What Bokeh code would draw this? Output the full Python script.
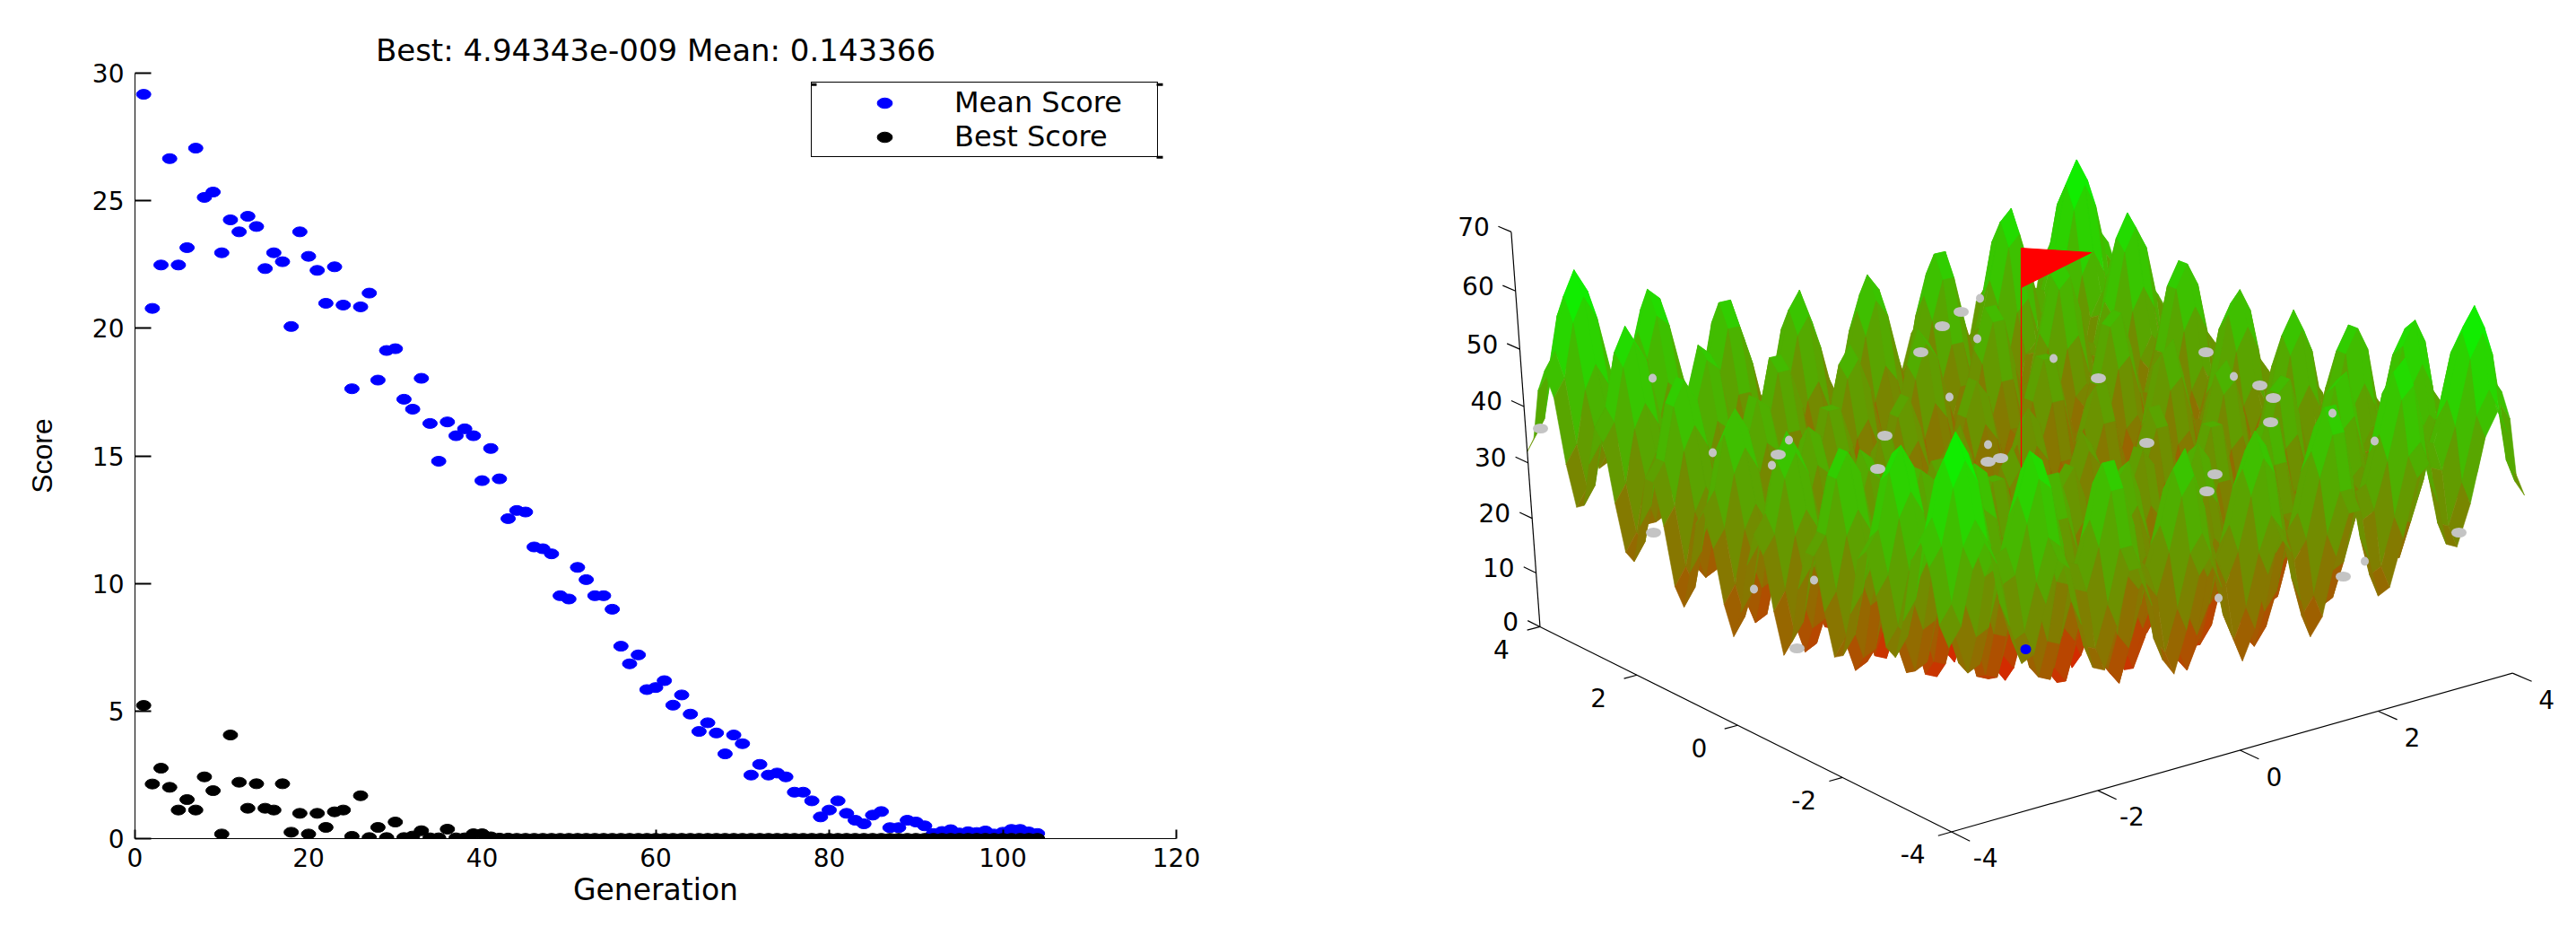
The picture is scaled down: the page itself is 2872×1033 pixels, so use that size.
import numpy as np
from bokeh.core.properties import value
from bokeh.embed import file_html
from bokeh.resources import INLINE
from bokeh.layouts import row
from bokeh.models import Range1d, Legend, LegendItem, ColumnDataSource, FixedTicker
from bokeh.plotting import figure

# ---------- left chart data ----------
generation = list(range(1, 105))
mean_score = [29.17,20.78,22.48,26.65,22.48,23.16,27.06,25.13,25.34,22.96,24.25,23.78,24.39,23.99,22.34,22.96,22.61,20.07,23.78,22.82,
              22.27,20.98,22.41,20.91,17.63,20.84,21.38,17.97,19.13,19.2,17.22,16.83,18.04,16.27,14.79,16.33,15.79,16.06,15.79,14.03,
              15.29,14.1,12.54,12.86,12.8,11.43,11.36,11.16,9.52,9.39,10.63,10.15,9.52,9.52,8.99,7.54,6.85,7.2,5.84,5.92,
              6.19,5.23,5.63,4.88,4.2,4.54,4.14,3.32,4.06,3.72,2.49,2.91,2.49,2.57,2.42,1.82,1.82,1.48,0.85,1.12,
              1.48,0.99,0.72,0.58,0.92,1.06,0.43,0.43,0.72,0.65,0.5,0.2,0.28,0.35,0.22,0.27,0.24,0.3,0.18,0.25,
              0.36,0.36,0.26,0.2]
best_score = [5.22,2.14,2.76,2.01,1.12,1.53,1.12,2.42,1.88,0.18,4.06,2.21,1.19,2.15,1.19,1.12,2.15,0.25,0.99,0.18,
              0.99,0.44,1.05,1.12,0.09,1.68,0.04,0.44,0.04,0.65,0.04,0.1,0.31,0.03,0.03,0.37,0.03,0.03,0.19,0.19,
              0.07,0.02,0.02,0.01,0.01,0.01,0.01,0.01,0.01,0.01,0.01,0.01,0.01,0.01,0.01,0.01,0.01,0.01,0.01,0.01,
              0.01,0.01,0.01,0.01,0.01,0.01,0.01,0.01,0.01,0.01,0.01,0.01,0.01,0.01,0.01,0.01,0.01,0.01,0.01,0.01,
              0.01,0.01,0.01,0.01,0.01,0.01,0.01,0.01,0.01,0.01,0.01,0.01,0.01,0.01,0.01,0.01,0.01,0.01,0.01,0.01,
              0.01,0.01,0.01,0.01]
x_ticks = [0, 20, 40, 60, 80, 100, 120]
y_ticks = [0, 5, 10, 15, 20, 25, 30]
title_text = "Best: 4.94343e-009 Mean: 0.143366"

# ---------- right chart data ----------
# one quadrant of the surface heights, x and y from 0 to 4 every 0.16; the picture is close to symmetric
surface_quadrant = [
 [0,5,14,20,17,8,1,4,14,21,21,12,5,6,14,24,26,19,11,10,17,28,32,28,19,16],
 [5,10,19,25,22,13,6,9,19,26,26,17,10,11,19,29,31,24,16,15,22,33,37,33,24,21],
 [14,19,28,34,31,22,15,18,28,35,35,26,19,20,28,38,40,33,25,24,31,42,46,42,33,30],
 [20,25,34,40,37,28,21,24,34,41,41,32,25,26,34,44,46,39,31,30,37,48,52,48,39,36],
 [17,22,31,37,34,25,18,21,31,38,38,29,22,23,31,41,43,36,28,27,34,45,49,45,36,33],
 [8,13,22,28,25,16,9,12,22,29,29,20,13,14,22,32,34,27,19,18,25,36,40,36,27,24],
 [1,6,15,21,18,9,2,5,15,22,22,13,6,7,15,25,27,20,12,11,18,29,33,29,20,17],
 [4,9,18,24,21,12,5,8,18,25,25,16,9,10,18,28,30,23,15,14,21,32,36,32,23,20],
 [14,19,28,34,31,22,15,18,28,35,35,26,19,20,28,38,40,33,25,24,31,42,46,42,33,30],
 [21,26,35,41,38,29,22,25,35,42,42,33,26,27,35,45,47,40,32,31,38,49,53,49,40,37],
 [21,26,35,41,38,29,22,25,35,42,42,33,26,27,35,45,47,40,32,31,38,49,53,49,40,37],
 [12,17,26,32,29,20,13,16,26,33,33,24,17,18,26,36,38,31,23,22,29,40,44,40,31,28],
 [5,10,19,25,22,13,6,9,19,26,26,17,10,11,19,29,31,24,16,15,22,33,37,33,24,21],
 [6,11,20,26,23,14,7,10,20,27,27,18,11,12,20,30,32,25,17,16,23,34,38,34,25,22],
 [14,19,28,34,31,22,15,18,28,35,35,26,19,20,28,38,40,33,25,24,31,42,46,42,33,30],
 [24,29,38,44,41,32,25,28,38,45,45,36,29,30,38,48,50,43,35,34,41,52,56,52,43,40],
 [26,31,40,46,43,34,27,30,40,47,47,38,31,32,40,50,52,45,37,36,43,54,58,54,45,42],
 [19,24,33,39,36,27,20,23,33,40,40,31,24,25,33,43,45,38,30,29,36,47,51,47,38,35],
 [11,16,25,31,28,19,12,15,25,32,32,23,16,17,25,35,37,30,22,21,28,39,43,39,30,27],
 [10,15,24,30,27,18,11,14,24,31,31,22,15,16,24,34,36,29,21,20,27,38,42,38,29,26],
 [17,22,31,37,34,25,18,21,31,38,38,29,22,23,31,41,43,36,28,27,34,45,49,45,36,33],
 [28,33,42,48,45,36,29,32,42,49,49,40,33,34,42,52,54,47,39,38,45,56,60,56,47,44],
 [32,37,46,52,49,40,33,36,46,53,53,44,37,38,46,56,58,51,43,42,49,60,64,60,51,48],
 [28,33,42,48,45,36,29,32,42,49,49,40,33,34,42,52,54,47,39,38,45,56,60,56,47,44],
 [19,24,33,39,36,27,20,23,33,40,40,31,24,25,33,43,45,38,30,29,36,47,51,47,38,35],
 [16,21,30,36,33,24,17,20,30,37,37,28,21,22,30,40,42,35,27,26,33,44,48,44,35,32],
]
grid_step = 0.16
xy_tick_values = [-4, -2, 0, 2, 4]
z_tick_values = [0, 10, 20, 30, 40, 50, 60, 70]
gray_x = [1717,2141,2165,2186,2101,1982,2093,2216,2230,2459,2339,2519,2534,2531,2393,2469,2460,1843,2741,2612,2003]
gray_y = [477,392,363,347,485,506,522,514,510,392,421,429,443,470,493,528,547,593,593,642,722]
gray_part_x = [2204,2207,1842,2173,1994,1975,1909,2216,2600,2289,2490,2647,2473,1955,2022,2636]
gray_part_y = [377,332,421,442,490,518,504,495,460,399,419,491,666,656,646,625]
best_point_x = [2258]
best_point_y = [723]
flag_x = [2253, 2331, 2253]
flag_y = [276, 281, 320]
pole_x = [2253, 2253]
pole_y = [276, 724]

# small tick stubs on the legend frame, in the left chart's data units
legend_stub_x0 = [117.73, 117.73, 77.93]
legend_stub_x1 = [118.45, 118.45, 78.55]
legend_stub_y = [29.55, 26.7, 29.55]

# camera calibration: 3-D positions and where they appear in the picture
cal_3d = [(-4,-4,0),(4,-4,0),(-4,4,0),(-4,4,70),(3.52,3.52,64),(3.52,-3.52,64),(-3.52,3.52,64),(-3.52,-3.52,64),
          (0,0,0),(-4,0,0),(0,-4,0),(4,-4,32),(-4,4,32)]
cal_2d = [(2173,927),(2803,748),(1718,697),(1684,257),(2314,177),(2758,341),(1755,300),(2182,480),
          (2253,724),(1937,808),(2496,835),(2813,553),(1701,505)]

rows_ = []; rhs = []
for (X, Y, Z), (u, v) in zip(cal_3d, cal_2d):
    u_, v_ = (u - 2250) / 500, (v - 600) / 500
    rows_.append([X, Y, Z, 1, 0, 0, 0, 0, -u_*X, -u_*Y, -u_*Z]); rhs.append(u_)
    rows_.append([0, 0, 0, 0, X, Y, Z, 1, -v_*X, -v_*Y, -v_*Z]); rhs.append(v_)
h = np.linalg.lstsq(np.array(rows_, float), np.array(rhs, float), rcond=None)[0]

def project(X, Y, Z):
    X, Y, Z = np.asarray(X, float), np.asarray(Y, float), np.asarray(Z, float)
    w = h[8]*X + h[9]*Y + h[10]*Z + 1
    return ((h[0]*X + h[1]*Y + h[2]*Z + h[3]) / w * 500 + 2250,
            (h[4]*X + h[5]*Y + h[6]*Z + h[7]) / w * 500 + 600)

# ---------- left figure ----------
TICK_FONT = "28px"
FONT = "DejaVu Sans"
p1 = figure(width=1428, height=1025, output_backend="svg", toolbar_location=None,
            x_range=Range1d(0, 120), y_range=Range1d(0, 30),
            min_border_left=150, min_border_right=117, min_border_top=81, min_border_bottom=91,
            title=title_text, x_axis_label="Generation", y_axis_label="Score")
p1.frame_align = False
p1.outline_line_color = None
p1.grid.visible = False
p1.title.align = "center"
p1.title.text_font = FONT
p1.title.text_font_size = "34px"
p1.title.text_font_style = "normal"
p1.title.text_color = "black"
p1.title.standoff = 12
p1.xaxis.ticker = FixedTicker(ticks=x_ticks)
p1.yaxis.ticker = FixedTicker(ticks=y_ticks)
for ax, tick_in, standoff in ((p1.xaxis[0], 10, 10), (p1.yaxis[0], 18, 12)):
    ax.major_tick_in = tick_in
    ax.major_tick_out = 0
    ax.minor_tick_line_color = None
    ax.major_tick_line_width = 2
    ax.major_tick_line_color = "black"
    ax.axis_line_color = "black"
    ax.axis_line_width = 1
    ax.major_label_text_font = FONT
    ax.major_label_text_font_size = TICK_FONT
    ax.major_label_text_color = "black"
    ax.major_label_standoff = standoff
    ax.axis_label_text_font = FONT
    ax.axis_label_text_font_style = "normal"
    ax.axis_label_text_color = "black"
p1.xaxis[0].axis_label_text_font_size = "33px"
p1.xaxis[0].axis_label_standoff = 3
p1.yaxis[0].major_label_orientation = "horizontal"
p1.yaxis[0].axis_label_text_font = "Liberation Sans"
p1.yaxis[0].axis_label_text_font_size = "32px"
p1.yaxis[0].axis_label_standoff = 35

r_mean = p1.ellipse(generation, mean_score, width=16, height=11, width_units="screen", height_units="screen",
                    fill_color="#0000ff", line_color="#0000ff")
r_best = p1.ellipse(generation, best_score, width=16, height=11, width_units="screen", height_units="screen",
                    fill_color="black", line_color="black")
legend = Legend(items=[LegendItem(label="Mean Score", renderers=[r_mean]),
                       LegendItem(label="Best Score", renderers=[r_best])],
                location=(754, 759), orientation="vertical", padding=3, spacing=0,
                glyph_width=156, glyph_height=21, label_standoff=0, label_width=223, label_height=21,
                margin=0, border_line_color="black", border_line_width=1.2, border_line_alpha=1,
                label_text_font=FONT, label_text_font_size="32px", label_text_color="black",
                background_fill_alpha=0)
p1.add_layout(legend)
p1.segment(legend_stub_x0, legend_stub_y, legend_stub_x1, legend_stub_y, line_color="black", line_width=3)

# ---------- right figure ----------
p2 = figure(width=1428, height=1025, output_backend="svg", toolbar_location=None,
            x_range=Range1d(1428, 2856), y_range=Range1d(1025, 0),
            min_border=0, x_axis_type=None, y_axis_type=None)
p2.frame_align = False
p2.outline_line_color = None
p2.grid.visible = False

q = np.array(surface_quadrant, float)
z_grid = np.vstack([np.hstack([q[::-1, ::-1], q[::-1, 1:]]), np.hstack([q[1:, ::-1], q[1:, 1:]])])
n = z_grid.shape[0]
axis_vals = np.arange(n) * grid_step - 4
back_src = {"xs": [], "ys": [], "c": []}
front_src = {"xs": [], "ys": [], "c": []}
order = sorted(((i, j) for i in range(n-1) for j in range(n-1)), key=lambda t: -(t[0] + t[1]))
for i, j in order:
    Xs = [axis_vals[j], axis_vals[j+1], axis_vals[j+1], axis_vals[j]]
    Ys = [axis_vals[i], axis_vals[i], axis_vals[i+1], axis_vals[i+1]]
    Zs = [z_grid[i, j], z_grid[i, j+1], z_grid[i+1, j+1], z_grid[i+1, j]]
    u, v = project(Xs, Ys, Zs)
    t = min(0.1 + 0.9 * sum(Zs) / 4 / 65.0, 1.0)
    color = "#%02x%02x00" % (int(255*(1-t)), int(255*t))
    dst = back_src if i + j >= n - 2 else front_src
    dst["xs"].append(list(u)); dst["ys"].append(list(v)); dst["c"].append(color)

p2.patches("xs", "ys", source=ColumnDataSource(back_src), fill_color="c", line_color="c", line_width=0.6)
p2.line(pole_x, pole_y, line_color="#ff0000", line_width=1.2)
p2.patch(flag_x, flag_y, fill_color="#ff0000", line_color="#ff0000")
p2.patches("xs", "ys", source=ColumnDataSource(front_src), fill_color="c", line_color="c", line_width=0.6)
p2.ellipse(gray_x, gray_y, width=17, height=11, width_units="screen", height_units="screen",
           fill_color="#c4c4c4", line_color=None)
p2.ellipse(gray_part_x, gray_part_y, width=9, height=10, width_units="screen", height_units="screen",
           fill_color="#c4c4c4", line_color=None)
p2.ellipse(best_point_x, best_point_y, width=12, height=11, width_units="screen", height_units="screen",
           fill_color="#0000ff", line_color=None)

# axes of the 3-D box
lines = [((-4,-4,0),(4,-4,0)), ((-4,-4,0),(-4,4,0)), ((-4,4,0),(-4,4,70))]
for a, b in lines:
    ua, va = project(*a); ub, vb = project(*b)
    p2.line([float(ua), float(ub)], [float(va), float(vb)], line_color="black", line_width=1.2)
tx = np.array(xy_tick_values, float)
u0, v0 = project(tx, np.full(5, -4.0), np.zeros(5)); u1, v1 = project(tx, np.full(5, -4.33), np.zeros(5))
p2.segment(u0, v0, u1, v1, line_color="black", line_width=1.2)
ul0, vl0 = project(np.full(5, -4.0), tx, np.zeros(5)); ul1, vl1 = project(np.full(5, -4.18), tx, np.zeros(5))
p2.segment(ul0, vl0, ul1, vl1, line_color="black", line_width=1.2)
tz = np.array(z_tick_values, float)
uz0, vz0 = project(np.full(8, -4.0), np.full(8, 4.0), tz); uz1, vz1 = project(np.full(8, -4.0), np.full(8, 4.26), tz)
p2.segment(uz0, vz0, uz1, vz1, line_color="black", line_width=1.2)
labels = [str(t) for t in xy_tick_values]
common = dict(text_font=value(FONT), text_font_size=TICK_FONT, text_color="black")
p2.text(u0, v0, text=labels, x_offset=38, y_offset=29, text_align="center", text_baseline="middle", **common)
p2.text(ul0, vl0, text=labels, x_offset=-43, y_offset=25, text_align="center", text_baseline="middle", **common)
p2.text(uz0, vz0, text=[str(t) for t in z_tick_values], x_offset=-24, y_offset=-6, text_align="right",
        text_baseline="middle", **common)

layout = row(p1, p2, spacing=0)
open("out.html", "w").write(file_html(layout, INLINE))
